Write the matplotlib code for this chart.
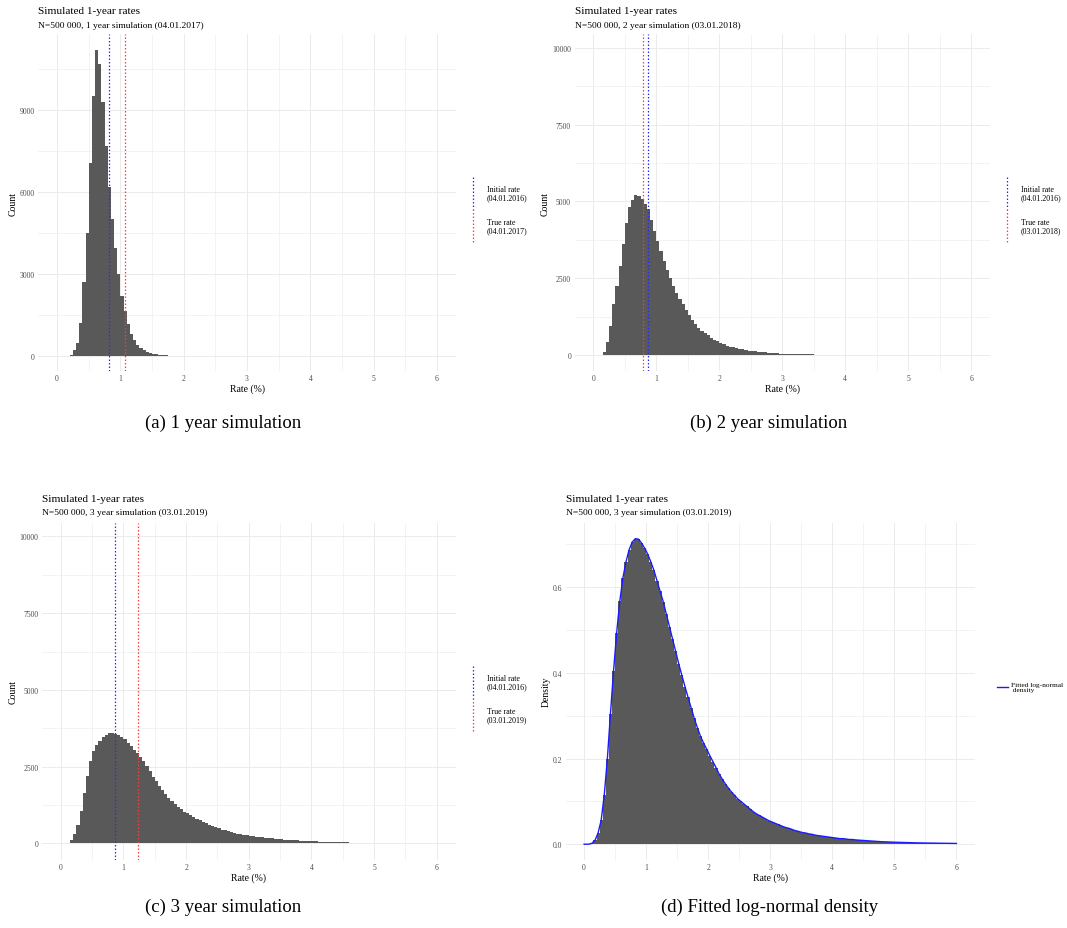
import matplotlib
matplotlib.use("Agg")
import matplotlib.pyplot as plt
from matplotlib.lines import Line2D
import numpy as np

# ---------------- data ----------------
BIN_W = 0.05

# Panel (a): 1 year simulation, bins starting at 0.20
a_start = 0.20
a_counts = [30, 200, 480, 1200, 2700, 4500, 7050, 9500, 11200, 10700,
            9300, 7700, 6200, 5000, 3950, 3000, 2200, 1650, 1150, 780,
            560, 400, 290, 210, 150, 105, 70, 45, 28, 17, 9, 4]
a_initial = 0.82
a_true = 1.07

# Panel (b): 2 year simulation, bins starting at 0.15
b_start = 0.15
b_counts = [100, 420, 950, 1650, 2250, 2900, 3600, 4300, 4830, 5050,
            5200, 5180, 5070, 4920, 4750, 4400, 4050, 3720, 3380, 3050,
            2770, 2500, 2240, 2030, 1830, 1650, 1460, 1310, 1150, 1020,
            890, 790, 710, 640, 560, 500, 450, 400, 350, 305,
            275, 250, 222, 198, 180, 162, 145, 132, 120, 110,
            100, 88, 78, 68, 62, 55, 48, 42, 37, 33,
            30, 27, 25, 23, 22, 19, 17, 15, 13, 11,
            9, 6, 4]
b_initial = 0.87
b_true = 0.79

# Panel (c): 3 year simulation, bins starting at 0.10
c_start = 0.10
c_counts = [10, 100, 300, 600, 1050, 1650, 2200, 2700, 3000, 3200,
            3350, 3460, 3540, 3600, 3600, 3570, 3520, 3460, 3390, 3270,
            3160, 3050, 2950, 2830, 2690, 2520, 2350, 2180, 2020, 1870,
            1730, 1600, 1490, 1390, 1290, 1190, 1110, 1040, 980, 920,
            860, 805, 755, 705, 655, 605, 565, 525, 490, 455,
            425, 395, 368, 345, 322, 300, 282, 265, 250, 236,
            222, 208, 196, 184, 173, 163, 153, 144, 135, 127,
            119, 112, 105, 98, 92, 86, 81, 76, 71, 66,
            62, 58, 54, 50, 47, 44, 41, 38, 35, 33,
            31, 29, 27, 25, 23, 21, 19, 17, 16, 15,
            14, 13, 12, 11, 10, 9, 8, 7, 6, 5,
            5, 4, 3, 3, 2, 1]
c_initial = 0.866
c_true = 1.235

# Panel (d): density histogram, bins starting at 0.0
d_start = 0.0
d_density = [0.0, 0.0, 0.002, 0.009, 0.026, 0.056, 0.115, 0.200, 0.305, 0.405,
             0.494, 0.567, 0.621, 0.659, 0.687, 0.705, 0.713, 0.712, 0.703, 0.691,
             0.677, 0.659, 0.639, 0.615, 0.590, 0.566, 0.537, 0.508, 0.479, 0.450,
             0.421, 0.394, 0.368, 0.343, 0.318, 0.294, 0.272, 0.252, 0.236, 0.222,
             0.207, 0.193, 0.179, 0.164, 0.152, 0.141, 0.131, 0.122, 0.114, 0.106,
             0.100, 0.094, 0.088, 0.082, 0.076, 0.071, 0.067, 0.063, 0.059, 0.055,
             0.052, 0.049, 0.046, 0.043, 0.040, 0.038, 0.036, 0.033, 0.031, 0.029,
             0.027, 0.026, 0.024, 0.023, 0.021, 0.020, 0.019, 0.018, 0.017, 0.016,
             0.015, 0.014, 0.013, 0.013, 0.012, 0.011, 0.011, 0.010, 0.0095, 0.009,
             0.0085, 0.008, 0.0075, 0.007, 0.0065, 0.006, 0.0057, 0.0054, 0.0051, 0.0048,
             0.0045, 0.0043, 0.0041, 0.0039, 0.0037, 0.0035, 0.0033, 0.0031, 0.0030, 0.0029,
             0.0027, 0.0026, 0.0025, 0.0024, 0.0023, 0.0022, 0.0021, 0.0020, 0.0019, 0.0018]

x_ticks = [0, 1, 2, 3, 4, 5, 6]
count_ticks_a = [0, 3000, 6000, 9000]
count_ticks_bc = [0, 2500, 5000, 7500, 10000]
dens_ticks = [0.0, 0.2, 0.4, 0.6]

title = "Simulated 1-year rates"
subtitles = ["N=500 000, 1 year simulation (04.01.2017)",
             "N=500 000, 2 year simulation (03.01.2018)",
             "N=500 000, 3 year simulation (03.01.2019)",
             "N=500 000, 3 year simulation (03.01.2019)"]
captions = ["(a) 1 year simulation", "(b) 2 year simulation",
            "(c) 3 year simulation", "(d) Fitted log-normal density"]
legend_initial = "Initial rate\n(04.01.2016)"
legend_true = ["True rate\n(04.01.2017)", "True rate\n(03.01.2018)",
               "True rate\n(03.01.2019)"]
legend_fit = "Fitted log-normal\n density"

# ---------------- styling ----------------
W, H = 1067, 929
SERIF = ["Liberation Serif", "DejaVu Serif"]
plt.rcParams["font.family"] = SERIF
FILL = "#595959"
GRID = "#EBEBEB"
TICKC = "#4D4D4D"
BLUE = "#2a2aff"
RED = "#ff3a3a"
DOT = (0, (1.2, 1.6))

fig = plt.figure(figsize=(W / 100, H / 100), dpi=100)
fig.patch.set_facecolor("white")


def rect(l, t, r, b):
    return [l / W, 1 - b / H, (r - l) / W, (b - t) / H]


def fx(px):
    return px / W


def fy(py):
    return 1 - py / H


def style_axes(ax, yticks, ylim, ylabel, yfmt):
    ax.set_xlim(-0.3, 6.3)
    ax.set_ylim(*ylim)
    ax.set_xticks(x_ticks)
    ax.set_xticklabels([str(t) for t in x_ticks])
    ax.set_xticks([0.5, 1.5, 2.5, 3.5, 4.5, 5.5], minor=True)
    ax.set_yticks(yticks)
    ax.set_yticklabels([yfmt(t) for t in yticks])
    ymin = [(yticks[i] + yticks[i + 1]) / 2 for i in range(len(yticks) - 1)]
    ymin.append(yticks[-1] + (yticks[1] - yticks[0]) / 2)
    ax.set_yticks([v for v in ymin if v < ylim[1]], minor=True)
    ax.grid(True, which="major", color=GRID, lw=0.7, zorder=0)
    ax.grid(True, which="minor", color=GRID, lw=0.4, zorder=0)
    ax.set_axisbelow(True)
    for s in ax.spines.values():
        s.set_visible(False)
    ax.tick_params(which="both", length=0, labelsize=5.5, labelcolor=TICKC,
                   pad=2.5)
    ax.set_xlabel("Rate (%)", fontsize=7, labelpad=1)
    ax.set_ylabel(ylabel, fontsize=7, labelpad=1.5)


def hist(ax, start, vals):
    edges = [start + i * BIN_W for i in range(len(vals) + 1)]
    ax.stairs(vals, edges, fill=True, color=FILL, lw=0, zorder=2)


def vlines(ax, init, true):
    ax.axvline(init, color=BLUE, lw=0.9, ls=DOT, zorder=3)
    ax.axvline(true, color=RED, lw=0.9, ls=DOT, zorder=3)


def titles(l, t_title, t_sub, i):
    fig.text(fx(l), fy(t_title), title, fontsize=8.1, va="center", ha="left")
    fig.text(fx(l), fy(t_sub), subtitles[i], fontsize=6.8, va="center", ha="left")


def vleg(key_x, text_x, y0, true_label):
    fig.add_artist(Line2D([fx(key_x), fx(key_x)], [fy(y0), fy(y0 + 32)],
                          color=BLUE, lw=0.9, ls=DOT))
    fig.add_artist(Line2D([fx(key_x), fx(key_x)], [fy(y0 + 32), fy(y0 + 65)],
                          color=RED, lw=0.9, ls=DOT))
    fig.text(fx(text_x), fy(y0 + 16), legend_initial, fontsize=5.7,
             va="center", ha="left", linespacing=1.05)
    fig.text(fx(text_x), fy(y0 + 49), true_label, fontsize=5.7,
             va="center", ha="left", linespacing=1.05)


count_fmt = lambda v: f"{int(v)}"
dens_fmt = lambda v: f"{v:.1f}"

# (a)
axa = fig.add_axes(rect(38, 35, 456, 372))
hist(axa, a_start, a_counts)
vlines(axa, a_initial, a_true)
style_axes(axa, count_ticks_a, (-561, 11790), "Count", count_fmt)
titles(38, 11.5, 25.5, 0)
vleg(473.0, 487, 178, legend_true[0])

# (b)
axb = fig.add_axes(rect(574.5, 35, 990, 372))
hist(axb, b_start, b_counts)
vlines(axb, b_initial, b_true)
style_axes(axb, count_ticks_bc, (-522, 10455), "Count", count_fmt)
titles(575, 11.5, 25.5, 1)
vleg(1007.0, 1021, 178, legend_true[1])

# (c)
axc = fig.add_axes(rect(42, 523.5, 455.5, 860.5))
hist(axc, c_start, c_counts)
vlines(axc, c_initial, c_true)
style_axes(axc, count_ticks_bc, (-522, 10455), "Count", count_fmt)
titles(42, 499.5, 513.5, 2)
vleg(473.0, 487, 667, legend_true[2])

# (d)
axd = fig.add_axes(rect(565.5, 523.5, 975, 860.5))
hist(axd, d_start, d_density)
line_x = [0.0] + [d_start + (i + 0.5) * BIN_W for i in range(len(d_density))] + [6.0]
line_y = [0.0] + list(d_density) + [d_density[-1]]
axd.plot(line_x, line_y, color="#1a1aff", lw=1.0, zorder=3)
style_axes(axd, dens_ticks, (-0.0357, 0.7508), "Density", dens_fmt)
titles(566, 499.5, 513.5, 3)
fig.add_artist(Line2D([fx(997), fx(1008)], [fy(688), fy(688)], color="#1a1aff", lw=1.0))
fig.text(fx(1011), fy(688), legend_fit, fontsize=5.3,
         va="center", ha="left", linespacing=1.05)

# captions
fig.text(fx(223), fy(423), captions[0], fontsize=13.5, ha="center", va="center")
fig.text(fx(769), fy(423), captions[1], fontsize=13.5, ha="center", va="center")
fig.text(fx(223), fy(907), captions[2], fontsize=13.5, ha="center", va="center")
fig.text(fx(770), fy(907), captions[3], fontsize=13.5, ha="center", va="center")

fig.savefig("out.png", dpi=100, facecolor="white")
